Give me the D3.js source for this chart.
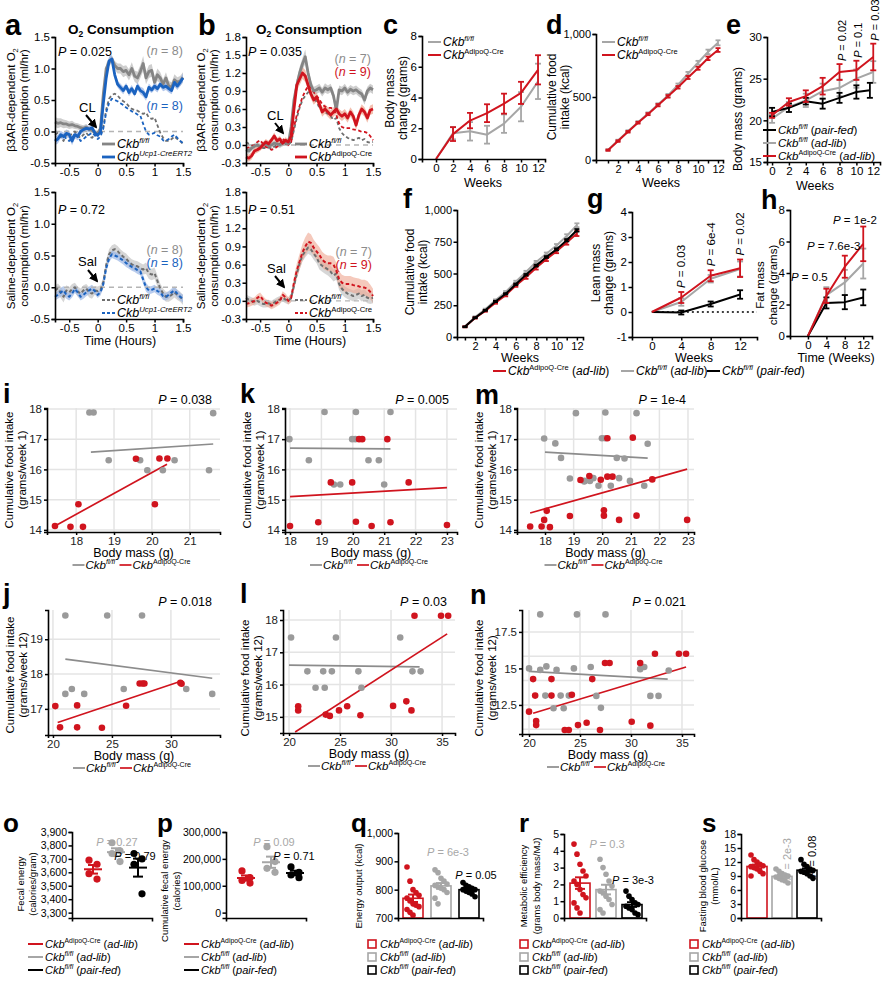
<!DOCTYPE html>
<html><head><meta charset="utf-8">
<script src="https://cdn.jsdelivr.net/npm/d3@7/dist/d3.min.js"></script>
<style>html,body{margin:0;padding:0;background:#fff}svg{display:block}</style>
</head><body>
<script>
// ================= DATA =================
const tHours = [-0.75,-0.7,-0.65,-0.6,-0.55,-0.5,-0.45,-0.4,-0.35,-0.3,
  -0.25,-0.2,-0.15,-0.1,-0.05,0,0.05,0.1,0.15,0.2,
  0.25,0.3,0.35,0.4,0.45,0.5,0.55,0.6,0.65,0.7,
  0.75,0.8,0.85,0.9,0.95,1,1.05,1.1,1.15,1.2,
  1.25,1.3,1.35,1.4,1.45,1.5];
const timeTicks = [-0.5,0,0.5,1,1.5];
// panel a
const aYTicks = [-0.5,0,0.5,1,1.5];
const aCLGray = [0.15,0.13,0.14,0.12,0.12,0.10,0.11,0.09,0.08,0.06,
  0.05,0.07,0.03,0.02,-0.02,-0.03,0.05,0.60,1.00,1.10,
  1.15,1.05,1.00,1.00,0.95,0.97,0.90,1.00,0.88,0.85,
  0.95,1.08,0.85,0.95,0.97,0.78,0.90,0.85,0.75,0.85,
  0.72,0.70,0.82,0.78,0.80,0.86];
const aCLGraySem = [0.08,0.08,0.07,0.07,0.06,0.06,0.06,0.05,0.05,0.05,
  0.05,0.05,0.04,0.04,0.04,0.04,0.05,0.08,0.08,0.07,
  0.06,0.07,0.08,0.08,0.09,0.08,0.09,0.10,0.09,0.10,
  0.10,0.12,0.10,0.10,0.10,0.09,0.10,0.09,0.08,0.09,
  0.08,0.08,0.09,0.08,0.08,0.08];
const aCLBlue = [-0.15,-0.12,-0.05,-0.08,-0.03,-0.05,-0.15,-0.05,-0.08,0.00,
  0.03,0.05,0.04,0.06,-0.02,-0.06,0.00,0.45,0.85,1.12,
  1.15,0.90,0.75,0.70,0.65,0.72,0.62,0.68,0.60,0.72,
  0.65,0.62,0.55,0.70,0.66,0.72,0.68,0.75,0.70,0.72,
  0.68,0.65,0.78,0.72,0.78,0.85];
const aCLBlueSem = [0.07,0.07,0.06,0.06,0.06,0.06,0.07,0.06,0.06,0.05,
  0.05,0.05,0.05,0.05,0.04,0.04,0.04,0.06,0.07,0.07,
  0.06,0.06,0.05,0.06,0.06,0.05,0.06,0.06,0.05,0.06,
  0.06,0.07,0.06,0.06,0.05,0.06,0.06,0.05,0.06,0.06,
  0.06,0.06,0.07,0.06,0.06,0.07];
const aSalGray = [-0.05,-0.02,-0.08,-0.15,-0.05,-0.08,-0.03,0.00,-0.07,-0.10,
  -0.05,-0.02,-0.08,-0.10,-0.05,-0.06,-0.04,0.08,0.35,0.52,
  0.58,0.60,0.57,0.52,0.48,0.45,0.40,0.36,0.34,0.33,
  0.30,0.28,0.30,0.22,0.20,0.22,0.10,-0.02,-0.10,-0.15,
  -0.15,-0.12,-0.08,-0.12,-0.15,-0.20];
const aSalGraySem = [0.08,0.08,0.09,0.09,0.08,0.08,0.08,0.07,0.08,0.08,
  0.08,0.07,0.08,0.08,0.07,0.07,0.07,0.08,0.08,0.08,
  0.08,0.08,0.08,0.08,0.08,0.08,0.08,0.08,0.08,0.08,
  0.08,0.08,0.09,0.09,0.09,0.09,0.09,0.08,0.08,0.08,
  0.08,0.08,0.08,0.08,0.08,0.08];
const aSalBlue = [-0.15,-0.12,-0.08,-0.05,-0.12,-0.15,-0.10,-0.03,-0.08,-0.15,
  -0.12,-0.08,-0.05,-0.02,-0.06,-0.12,-0.08,0.05,0.30,0.45,
  0.52,0.50,0.48,0.45,0.42,0.38,0.35,0.32,0.30,0.27,
  0.25,0.12,0.00,-0.05,-0.04,-0.02,-0.06,-0.08,-0.14,-0.15,
  -0.12,-0.08,-0.05,-0.10,-0.15,-0.18];
const aSalBlueSem = [0.06,0.06,0.07,0.07,0.06,0.06,0.06,0.06,0.06,0.06,
  0.06,0.06,0.06,0.06,0.05,0.05,0.05,0.06,0.06,0.06,
  0.06,0.06,0.06,0.06,0.06,0.06,0.06,0.06,0.06,0.06,
  0.06,0.07,0.07,0.06,0.06,0.06,0.06,0.06,0.06,0.06,
  0.06,0.06,0.06,0.06,0.06,0.06];
// panel b
const bYTicks = [-0.3,0,0.3,0.6,0.9,1.2,1.5,1.8];
const bCLGray = [-0.08,-0.10,-0.05,-0.02,0.00,-0.03,0.00,0.02,-0.02,0.00,
  0.03,0.02,0.00,0.03,0.05,0.02,0.30,0.75,1.00,1.20,
  1.35,1.47,1.20,1.00,0.90,0.92,0.95,0.88,0.95,0.92,
  0.95,0.82,0.58,0.92,0.90,0.95,0.88,0.93,0.90,0.92,
  0.88,0.85,0.75,0.90,0.95,0.92];
const bCLGraySem = [0.05,0.05,0.05,0.05,0.05,0.05,0.05,0.05,0.05,0.05,
  0.05,0.05,0.05,0.05,0.05,0.05,0.06,0.08,0.10,0.10,
  0.10,0.12,0.10,0.08,0.07,0.07,0.07,0.07,0.08,0.07,
  0.07,0.08,0.08,0.07,0.07,0.07,0.07,0.07,0.07,0.07,
  0.07,0.07,0.08,0.07,0.07,0.07];
const bCLRed = [-0.20,-0.22,-0.18,-0.10,-0.08,-0.05,0.00,0.05,0.02,0.08,
  0.15,0.07,0.10,0.03,0.08,0.05,0.15,0.60,1.00,1.10,
  1.20,1.15,1.00,0.85,0.75,0.80,0.68,0.55,0.60,0.55,
  0.50,0.55,0.60,0.52,0.48,0.52,0.45,0.55,0.48,0.33,
  0.50,0.60,0.55,0.45,0.58,0.60];
const bCLRedSem = [0.06,0.06,0.06,0.05,0.05,0.05,0.05,0.05,0.05,0.05,
  0.06,0.05,0.05,0.05,0.05,0.05,0.06,0.08,0.10,0.10,
  0.10,0.10,0.09,0.08,0.08,0.08,0.08,0.08,0.08,0.08,
  0.08,0.08,0.08,0.08,0.08,0.08,0.08,0.08,0.08,0.08,
  0.08,0.08,0.08,0.08,0.08,0.08];
const bSalGray = [0.05,0.02,0.00,-0.02,0.00,-0.03,-0.05,-0.05,-0.04,-0.06,
  -0.03,0.00,0.02,0.05,0.02,0.00,0.05,0.25,0.45,0.62,
  0.75,0.82,0.88,0.85,0.78,0.72,0.62,0.58,0.55,0.52,
  0.48,0.42,0.45,0.28,0.20,0.15,0.12,0.10,0.08,0.10,
  0.12,0.08,0.10,0.05,0.04,0.05];
const bSalGraySem = [0.06,0.06,0.06,0.06,0.06,0.06,0.06,0.06,0.06,0.06,
  0.06,0.06,0.06,0.06,0.06,0.06,0.07,0.08,0.09,0.10,
  0.10,0.10,0.10,0.10,0.10,0.10,0.10,0.10,0.10,0.10,
  0.10,0.10,0.10,0.10,0.10,0.09,0.09,0.09,0.09,0.09,
  0.09,0.09,0.09,0.09,0.09,0.09];
const bSalRed = [-0.05,-0.04,-0.02,0.00,0.05,0.08,0.02,-0.03,-0.05,-0.08,
  -0.06,-0.03,0.00,0.10,0.06,0.00,0.05,0.30,0.50,0.65,
  0.80,0.90,0.98,0.96,0.88,0.82,0.76,0.68,0.64,0.62,
  0.62,0.60,0.50,0.36,0.30,0.28,0.28,0.28,0.26,0.25,
  0.24,0.22,0.22,0.20,0.15,0.08];
const bSalRedSem = [0.06,0.06,0.06,0.06,0.06,0.06,0.06,0.06,0.06,0.06,
  0.06,0.06,0.06,0.06,0.06,0.06,0.07,0.10,0.12,0.13,
  0.14,0.15,0.15,0.14,0.13,0.13,0.13,0.13,0.13,0.13,
  0.13,0.13,0.13,0.13,0.13,0.13,0.13,0.13,0.13,0.13,
  0.13,0.13,0.13,0.13,0.12,0.12];
// panel c
const cWeeks = [0,2,4,6,8,10,12];
const cXTicks = [0,2,4,6,8,10,12];
const cYTicks = [0,2,4,6,8];
const cGray = [0,1.68,1.80,1.58,2.30,3.40,5.05];
const cGrayErr = [0,0.40,0.60,0.58,0.60,0.95,1.15];
const cRed = [0,1.62,2.50,2.98,3.60,4.30,5.80];
const cRedErr = [0,0.45,0.50,0.58,0.65,0.72,0.95];
// panel d
const dWeeks = [1,2,3,4,5,6,7,8,9,10,11,12];
const dYTicks = [0,500,1000];
const dGray = [80,155,228,300,368,440,512,595,685,772,858,930];
const dGrayErr = [5,6,8,8,10,10,12,12,14,15,18,20];
const dRed = [78,150,224,296,364,435,505,577,655,728,807,873];
const dRedErr = [5,6,6,7,8,9,10,10,12,12,14,15];
// panel e
const eWeeks = [0,2,4,6,8,10,12];
const eBlackWeeks = [0,2,4,6,8,10,11.6];
const eYTicks = [15,20,25,30];
const eRed = [20.6,22.2,22.9,24.1,25.8,26.0,27.6];
const eRedErr = [0.3,0.45,0.7,1.0,0.95,1.15,1.6];
const eGray = [20.2,21.6,22.4,23.5,23.9,25.0,25.8];
const eGrayErr = [0.5,0.6,0.8,0.9,1.0,1.1,1.3];
const eBlack = [21.0,21.5,22.3,22.0,22.7,23.4,23.6];
const eBlackErr = [0.5,0.5,0.4,0.6,0.6,0.8,0.9];
const ePWeeks = [8,10,12];
const ePLabels = ["0.02","0.1","0.03"];
// panel f
const fWeeks = [1,2,3,4,5,6,7,8,9,10,11,12];
const fYTicks = [0,250,500,750,1000];
const fGray = [82,158,218,290,355,435,512,590,655,720,795,880];
const fGrayErr = [4,5,5,6,7,8,9,9,10,12,14,15];
const fRed = [80,150,205,270,330,405,470,545,612,675,745,815];
const fRedErr = [4,5,6,8,10,10,12,14,14,15,18,20];
const fBlack = [80,152,210,280,340,415,490,562,630,690,762,840];
const fBlackErr = [3,4,4,5,5,6,6,7,7,8,9,10];
// panel g
const gWeeks = [0,4,8,12];
const gYTicks = [-1,0,1,2,3,4];
const gRed = [0,0.58,1.45,1.75];
const gRedErr = [0,0.22,0.22,0.35];
const gGray = [0,0.40,1.33,1.72];
const gGrayErr = [0,0.15,0.15,0.30];
const gBlack = [0,-0.02,0.32,0.70];
const gBlackErr = [0,0.08,0.10,0.17];
const gPLabels = ["0.03","6e-4","0.02"];
// panel h
const hWeeks = [0,4,8,12];
const hYTicks = [0,2,4,6,8];
const hRed = [0,2.55,4.40,5.85];
const hRedErr = [0,0.45,0.70,1.10];
const hGray = [0,2.60,3.40,4.60];
const hGrayErr = [0,0.50,0.80,0.95];
const hBlack = [0,2.10,2.15,2.45];
const hBlackErr = [0,0.35,0.45,0.50];
const hPLabels = ["0.5","7.6e-3","1e-2"];
// scatter i
const iGrayX = [18.35,18.46,21.62,18.86,19.69,20.6,19.88,20.29,21.51];
const iGrayY = [17.88,17.88,17.86,16.30,16.30,16.30,15.97,15.97,15.97];
const iRedX = [19.58,20.2,20.41,18.06,20.08,17.44,17.85,18.18];
const iRedY = [16.35,16.36,16.36,14.85,14.85,14.13,14.10,14.10];
const iFitGrayX = [18.39,21.62], iFitGrayY = [16.57,16.84];
const iFitRedX = [17.44,20.4], iFitRedY = [14.13,16.17];
// scatter k
const kGrayX = [17.98,19.1,20.1,21.2,19.98,20.08,18.6,20.5,20.83,19.4,19.6,21.0];
const kGrayY = [17.0,17.9,17.9,17.9,17.0,17.0,16.3,16.3,16.3,15.5,15.5,15.5];
const kRedX = [20.2,20.3,21.1,19.3,19.98,21.78,18.0,18.9,20.1,20.6,21.2,23.0];
const kRedY = [17.0,17.0,17.0,15.57,15.57,15.57,14.13,14.25,14.27,14.13,14.25,14.16];
const kFitGrayX = [18.0,21.2], kFitGrayY = [16.7,16.68];
const kFitRedX = [18.0,23.0], kFitRedY = [15.1,15.4];
// scatter m
const mGrayX = [17.97,18.36,18.56,19.08,18.87,19.37,20.11,21.2,19.99,20.11,21.59,20.51,20.78,19.38,19.57,19.69,19.87,20.3,20.59,20.97,21.47];
const mGrayY = [17.02,16.86,16.38,17.86,15.7,15.6,17.88,17.86,17.03,17.03,16.85,16.38,16.36,15.62,15.62,15.71,15.46,15.46,15.71,15.62,15.46];
const mRedX = [17.48,17.88,17.97,18.06,18.17,18.87,19.24,19.55,19.95,20.18,20.36,21.75,20.18,21.07,20.06,20.06,20.59,21.2,22.97];
const mRedY = [14.11,14.11,14.33,14.63,14.09,14.46,15.65,15.78,15.66,15.76,15.76,15.67,17.03,17.05,14.65,14.47,14.33,14.47,14.33];
const mFitGrayX = [18.0,21.59], mFitGrayY = [16.57,16.37];
const mFitRedX = [17.48,22.97], mFitRedY = [14.56,16.01];
// scatter j
const jGrayX = [21.05,24.6,27.55,21.05,21.6,22.65,26.0,31.3,33.5];
const jGrayY = [19.68,19.68,19.68,17.43,17.57,17.43,17.57,17.57,17.43];
const jRedX = [20.2,20.6,22.05,22.05,24.15,26.2,27.35,27.6,27.75,30.8,30.9];
const jRedY = [17.08,16.47,17.1,16.47,16.46,17.09,17.73,17.73,17.73,17.75,17.72];
const jFitGrayX = [21.05,33.5], jFitGrayY = [18.43,17.88];
const jFitRedX = [20.4,30.9], jFitRedY = [16.61,17.8];
// scatter l
const lGrayX = [20.2,24.6,30.9,21.8,23.35,24.2,26.8,32.1,32.9,22.6,23.5,27.1];
const lGrayY = [17.46,17.46,17.46,16.41,16.41,16.41,16.41,16.41,16.41,15.9,15.9,15.9];
const lRedX = [32.3,34.9,35.6,20.9,20.9,23.6,24.0,24.9,25.7,27.0,30.2,31.5,32.0];
const lRedY = [18.13,18.13,18.13,15.33,15.2,15.07,15.03,15.2,15.33,15.05,15.34,15.48,15.2];
const lFitGrayX = [20.0,32.8], lFitGrayY = [16.6,16.55];
const lFitRedX = [20.6,35.5], lFitRedY = [14.53,17.57];
// scatter n
const nGrayX = [21.1,24.7,27.5,20.0,21.1,21.7,22.7,24.4,26.05,30.9,31.3,33.7,31.9,32.7,26.6,27.05,21.6,23.1,23.9,22.4,23.4];
const nGrayY = [18.7,18.7,18.7,15.0,14.9,15.14,14.9,15.0,15.1,14.95,15.1,14.86,13.12,13.12,13.12,12.3,13.14,13.14,13.14,12.27,12.27];
const nRedX = [20.0,20.4,22.2,20.6,22.2,24.2,20.7,20.7,23.5,23.9,24.8,25.65,26.2,27.45,27.9,32.35,34.7,35.4,30.9,26.96,30.07,31.9];
const nRedY = [12.04,14.27,14.27,13.14,13.14,13.19,11.4,11.12,10.78,10.78,11.12,11.28,14.27,15.37,15.37,16.0,16.0,16.0,15.37,10.78,11.35,11.08];
const nFitGrayX = [20.0,33.6], nFitGrayY = [14.8,14.27];
const nFitRedX = [20.4,35.4], nFitRedY = [11.93,15.1];
const nGridY = [10.83,12.5,14.17,15.83,17.5];
const nYTicks = [12.5,15,17.5];
// bottom row
const oRed = [3690,3660,3590,3550], oGray = [3820,3760,3740,3680], oBlack = [3740,3700,3660,3440];
const oYTicks = [3300,3400,3500,3600,3700,3800,3900];
const pRed = [155000,130000,120000,110000], pGray = [245000,190000,165000,150000], pBlack = [170000,150000,140000,130000];
const pYTicks = [0,100000,200000,300000];
const qRed = [880,830,800,790,780,770,760,750,745,740,730,720,710];
const qGray = [870,860,840,830,820,815,810,805,800,790,770,750];
const qBlack = [825,815,810,805,800,800,795,790,785,775];
const qYTicks = [700,800,900,1000];
const rRed = [4.4,3.8,3.2,2.8,2.5,2.2,2.0,1.7,1.4,1.2,0.9,0.6,0.3];
const rGray = [3.5,3.0,2.6,2.2,1.9,1.6,1.5,1.3,1.1,0.8,0.5,0.3];
const rBlack = [1.6,1.3,1.1,0.9,0.8,0.7,0.6,0.5,0.3,0.2];
const rYTicks = [0,1,2,3,4,5];
const sRed = [13.5,12.5,12,11.5,11.2,11,10.8,10.5,10,9.5,9];
const sGray = [10.5,10,9.5,9.2,9,8.8,8.5,8.2,8,7.5];
const sBlack = [12.5,11.5,11,10.5,10.2,10,9.8,9.5,9,8.5];
const sYTicks = [0,3,6,9,12,15,18];

// ================= HELPERS =================
const F = "'Liberation Sans', Arial, Helvetica, sans-serif";
const RED = "#d0141e", BLUE = "#1b63c0", GRAY = "#a6a6a6", DGRAY = "#858585", SGRAY = "#9a9a9a";
const svg = d3.select("body").append("svg").attr("width", 888).attr("height", 989).style("font-family", F);
svg.append("rect").attr("width", 888).attr("height", 989).attr("fill", "#fff");
const defs = svg.append("defs");
defs.append("marker").attr("id", "arr").attr("viewBox", "0 0 10 10").attr("refX", 8).attr("refY", 5)
  .attr("markerWidth", 4.5).attr("markerHeight", 4.5).attr("orient", "auto")
  .append("path").attr("d", "M0,0 L10,5 L0,10 z").attr("fill", "#000");

function T(x, y, s, o = {}) {
  const t = svg.append("text").attr("x", x).attr("y", y)
    .attr("font-size", o.size || 12).attr("fill", o.fill || "#000")
    .attr("text-anchor", o.anchor || "start");
  if (o.bold) t.attr("font-weight", "bold");
  if (o.italic) t.attr("font-style", "italic");
  if (o.rotate) t.attr("transform", `rotate(${o.rotate},${x},${y})`);
  if (s != null) t.text(s);
  return t;
}
function L(x1, y1, x2, y2, c, w, dash) {
  const l = svg.append("line").attr("x1", x1).attr("y1", y1).attr("x2", x2).attr("y2", y2)
    .attr("stroke", c).attr("stroke-width", w);
  if (dash) l.attr("stroke-dasharray", dash);
  return l;
}
function letter(x, y, s, size = 27) { T(x, y, s, { size: size, bold: true }); }
function pText(x, y, val, o = {}) {
  const t = T(x, y, null, o);
  t.append("tspan").attr("font-style", "italic").text("P");
  t.append("tspan").text(" = " + val);
  return t;
}
function nText(x, y, n, fill) {
  const t = T(x, y, null, { anchor: "end", fill: fill, size: 12.5 });
  t.append("tspan").text("(");
  t.append("tspan").attr("font-style", "italic").text("n");
  t.append("tspan").text(" = " + n + ")");
}
function geno(x, y, sup, suffix, o = {}) {
  const size = o.size || 12;
  const t = T(x, y, null, o);
  t.append("tspan").attr("font-style", "italic").text("Ckb");
  t.append("tspan").attr("font-size", size * 0.62).attr("dy", -size * 0.42)
    .attr("font-style", o.supUp ? "normal" : "italic").text(sup);
  if (suffix) {
    t.append("tspan").attr("dy", size * 0.42).text(" (");
    t.append("tspan").attr("font-style", "italic").text(suffix);
    t.append("tspan").text(")");
  }
  return t;
}
function yLab(cx, cy, s, size = 11.5) {
  return T(cx + size * 0.36, cy, s, { anchor: "middle", rotate: -90, size: size });
}
function axes(x, y, o) {
  const size = o.size || 11.5, fill = o.fill || "#000";
  const tick = o.tick ?? 3.5, pad = o.pad ?? 1.5;
  const st = g => {
    g.attr("font-family", F);
    g.select(".domain").attr("stroke", "#000").attr("stroke-width", 1.6);
    g.selectAll(".tick line").attr("stroke", "#000").attr("stroke-width", 1.5);
    g.selectAll(".tick text").attr("font-size", size).attr("fill", fill).attr("font-family", F);
  };
  const gx = svg.append("g").attr("transform", `translate(0,${o.xAt ?? y.range()[0]})`)
    .call(d3.axisBottom(x).tickValues(o.xTicks).tickFormat(o.xFmt || (d => d))
      .tickSizeOuter(0).tickSize(tick).tickPadding(pad));
  st(gx);
  const gy = svg.append("g").attr("transform", `translate(${o.yAt ?? x.range()[0]},0)`)
    .call(d3.axisLeft(y).tickValues(o.yTicks).tickFormat(o.yFmt || (d => d))
      .tickSizeOuter(0).tickSize(tick).tickPadding(pad));
  st(gy);
}
function band(x, y, ts, m, s, fill, op) {
  const area = d3.area().x((d, i) => x(ts[i])).y0((d, i) => y(m[i] - s[i])).y1((d, i) => y(m[i] + s[i]));
  svg.append("path").datum(m).attr("d", area).attr("fill", fill).attr("opacity", op);
}
function series(x, y, ts, m, c, w, dash) {
  const line = d3.line().x((d, i) => x(ts[i])).y(d => y(d));
  const p = svg.append("path").datum(m).attr("d", line).attr("fill", "none").attr("stroke", c)
    .attr("stroke-width", w).attr("stroke-linejoin", "round");
  if (dash) p.attr("stroke-dasharray", dash);
}
function errSeries(x, y, xs, m, e, c, w = 2, cap = 3) {
  const line = d3.line().x((d, i) => x(xs[i])).y(d => y(d));
  svg.append("path").datum(m).attr("d", line).attr("fill", "none").attr("stroke", c).attr("stroke-width", w).attr("stroke-linejoin", "round");
  m.forEach((v, i) => {
    if (!e[i]) return;
    const cx = x(xs[i]);
    L(cx, y(v - e[i]), cx, y(v + e[i]), c, 1.8);
    L(cx - cap, y(v - e[i]), cx + cap, y(v - e[i]), c, 1.8);
    L(cx - cap, y(v + e[i]), cx + cap, y(v + e[i]), c, 1.8);
  });
}
function o2Title(cx, y) {
  const t = T(cx, y, null, { anchor: "middle", bold: true, size: 13.5 });
  t.append("tspan").text("O");
  t.append("tspan").attr("font-size", 8.5).attr("dy", 3).text("2");
  t.append("tspan").attr("dy", -3).text(" Consumption");
}
function o2YLab(c1, c2, cy, first) {
  const t = T(c1 + 4.1, cy, null, { anchor: "middle", rotate: -90, size: 11.5 });
  t.append("tspan").text(first + " O");
  t.append("tspan").attr("font-size", 7.5).attr("dy", 3).text("2");
  yLab(c2, cy, "consumption (ml/hr)");
}
function zero(x, y) { L(x(-0.75), y(0), x(1.5), y(0), "#b5b5b5", 1.3, "5,4"); }
function arrow(x1, y1, x2, y2) { L(x1, y1, x2, y2, "#000", 2).attr("marker-end", "url(#arr)"); }
const fmt1 = d => d.toFixed(1);
const fmtC = d3.format(",");

// ================= PANEL a =================
letter(5, 35, "a", 29);
o2Title(121, 34);
{
  const x = d3.scaleLinear().domain([-0.75, 1.5]).range([55, 183]);
  const y = d3.scaleLinear().domain([-0.5, 1.5]).range([163, 37]);
  band(x, y, tHours, aCLGray, aCLGraySem, "#c9c9c9", 0.9);
  band(x, y, tHours, aCLBlue, aCLBlueSem, "#9bb6e6", 0.75);
  zero(x, y);
  series(x, y, tHours, aSalGray, "#6f6f6f", 1.8, "3.5,2.5");
  series(x, y, tHours, aSalBlue, BLUE, 1.8, "3.5,2.5");
  series(x, y, tHours, aCLGray, DGRAY, 2.8);
  series(x, y, tHours, aCLBlue, BLUE, 2.8);
  axes(x, y, { xTicks: timeTicks, yTicks: aYTicks, yFmt: fmt1, size: 11.5 });
  pText(58, 56, "0.025", { size: 12.5 });
  nText(183, 55, 8, "#8c8c8c");
  nText(183, 110, 8, BLUE);
  T(79, 112, "CL", { size: 13 });
  arrow(86, 115, 96, 127);
  L(102, 144, 115, 144, DGRAY, 2.8); geno(117, 148, "fl/fl", null, { size: 12.5 });
  L(102, 157, 115, 157, BLUE, 2.8); geno(117, 161, "Ucp1-CreERT2", null, { size: 12.5 });
  o2YLab(11, 24, 100, "\u03B23AR-dependent");
}
{
  const x = d3.scaleLinear().domain([-0.75, 1.5]).range([55, 183]);
  const y = d3.scaleLinear().domain([-0.5, 1.5]).range([319, 192]);
  band(x, y, tHours, aSalGray, aSalGraySem, "#cfcfcf", 0.85);
  band(x, y, tHours, aSalBlue, aSalBlueSem, "#9bb6e6", 0.7);
  zero(x, y);
  series(x, y, tHours, aSalGray, "#6f6f6f", 2, "3.5,2.5");
  series(x, y, tHours, aSalBlue, BLUE, 2, "3.5,2.5");
  axes(x, y, { xTicks: timeTicks, yTicks: aYTicks, yFmt: fmt1, size: 11.5 });
  pText(58, 214, "0.72", { size: 12.5 });
  nText(183, 254, 8, "#8c8c8c");
  nText(183, 267, 8, BLUE);
  T(78, 266, "Sal", { size: 13 });
  arrow(88, 270, 97, 281);
  L(102, 300, 115, 300, "#6f6f6f", 2, "3,2"); geno(117, 304, "fl/fl", null, { size: 12.5 });
  L(102, 313, 115, 313, BLUE, 2, "3,2"); geno(117, 317, "Ucp1-CreERT2", null, { size: 12.5 });
  T(120, 345, "Time (Hours)", { anchor: "middle", size: 12.5 });
  o2YLab(11, 24, 256, "Saline-dependent");
}

// ================= PANEL b =================
letter(198, 35, "b", 29);
o2Title(309, 34);
{
  const x = d3.scaleLinear().domain([-0.75, 1.5]).range([246, 373]);
  const y = d3.scaleLinear().domain([-0.3, 1.8]).range([163, 37]);
  band(x, y, tHours, bCLGray, bCLGraySem, "#c9c9c9", 0.9);
  band(x, y, tHours, bCLRed, bCLRedSem, "#eea58f", 0.7);
  zero(x, y);
  series(x, y, tHours, bSalGray, "#6f6f6f", 1.8, "3.5,2.5");
  series(x, y, tHours, bSalRed, RED, 1.8, "3.5,2.5");
  series(x, y, tHours, bCLGray, DGRAY, 2.8);
  series(x, y, tHours, bCLRed, RED, 2.8);
  axes(x, y, { xTicks: timeTicks, yTicks: bYTicks, yFmt: fmt1, size: 11.5 });
  pText(248, 56, "0.035", { size: 12.5 });
  nText(371, 63, 7, "#8c8c8c");
  nText(371, 76, 9, RED);
  T(267, 120, "CL", { size: 13 });
  arrow(275, 123, 283, 133);
  L(295, 144, 307, 144, DGRAY, 2.8); geno(309, 148, "fl/fl", null, { size: 12.5 });
  L(295, 157, 307, 157, RED, 2.8); geno(309, 161, "AdipoQ-Cre", null, { size: 12.5, supUp: true });
  o2YLab(201, 214, 100, "\u03B23AR-dependent");
}
{
  const x = d3.scaleLinear().domain([-0.75, 1.5]).range([246, 373]);
  const y = d3.scaleLinear().domain([-0.3, 1.8]).range([319, 192]);
  band(x, y, tHours, bSalGray, bSalGraySem, "#cfcfcf", 0.85);
  band(x, y, tHours, bSalRed, bSalRedSem, "#eea58f", 0.6);
  zero(x, y);
  series(x, y, tHours, bSalGray, "#6f6f6f", 2, "3.5,2.5");
  series(x, y, tHours, bSalRed, RED, 2, "3.5,2.5");
  axes(x, y, { xTicks: timeTicks, yTicks: bYTicks, yFmt: fmt1, size: 11.5 });
  pText(248, 214, "0.51", { size: 12.5 });
  nText(372, 256, 7, "#8c8c8c");
  nText(372, 269, 9, RED);
  T(267, 273, "Sal", { size: 13 });
  arrow(275, 276, 284, 287);
  L(295, 300, 307, 300, "#6f6f6f", 2, "3,2"); geno(309, 304, "fl/fl", null, { size: 12.5 });
  L(295, 313, 307, 313, RED, 2, "3,2"); geno(309, 317, "AdipoQ-Cre", null, { size: 12.5, supUp: true });
  T(310, 345, "Time (Hours)", { anchor: "middle", size: 12.5 });
  o2YLab(201, 214, 256, "Saline-dependent");
}

// ================= PANEL c =================
letter(383, 34, "c");
{
  const x = d3.scaleLinear().domain([-1.65, 12.82]).range([422, 545]);
  const y = d3.scaleLinear().domain([0, 8]).range([159, 36]);
  errSeries(x, y, cWeeks, cGray, cGrayErr, GRAY, 2);
  errSeries(x, y, cWeeks, cRed, cRedErr, RED, 2);
  axes(x, y, { xTicks: cXTicks, yTicks: cYTicks });
  L(428, 42, 441, 42, GRAY, 2); geno(443, 46, "fl/fl", null, { size: 12 });
  L(428, 55, 441, 55, RED, 2); geno(443, 59, "AdipoQ-Cre", null, { size: 12, supUp: true });
  T(483, 187, "Weeks", { anchor: "middle", size: 12.5 });
  yLab(390, 98, "Body mass", 12); yLab(403, 98, "change (grams)", 12);
}
// ================= PANEL d =================
letter(546, 34, "d");
{
  const x = d3.scaleLinear().domain([-0.2, 12.5]).range([596, 723]);
  const y = d3.scaleLinear().domain([0, 1000]).range([160, 34]);
  errSeries(x, y, dWeeks, dGray, dGrayErr, GRAY, 2, 2.5);
  errSeries(x, y, dWeeks, dRed, dRedErr, RED, 2, 2.5);
  axes(x, y, { xTicks: dWeeks, xFmt: d => (d % 2 === 0 ? d : ""), yTicks: dYTicks, yFmt: fmtC, size: 11 });
  L(602, 42, 615, 42, GRAY, 2); geno(617, 46, "fl/fl", null, { size: 12 });
  L(602, 55, 615, 55, RED, 2); geno(617, 59, "AdipoQ-Cre", null, { size: 12, supUp: true });
  T(661, 187, "Weeks", { anchor: "middle", size: 12.5 });
  yLab(552, 97, "Cumulative food", 12); yLab(565, 97, "intake (kcal)", 12);
}
// ================= PANEL e =================
letter(726, 34, "e");
{
  const x = d3.scaleLinear().domain([-0.6, 12.8]).range([767, 880]);
  const y = d3.scaleLinear().domain([15, 30]).range([162, 37]);
  errSeries(x, y, eWeeks, eGray, eGrayErr, GRAY, 2);
  errSeries(x, y, eBlackWeeks, eBlack, eBlackErr, "#000", 2);
  errSeries(x, y, eWeeks, eRed, eRedErr, RED, 2);
  axes(x, y, { xTicks: cXTicks, yTicks: eYTicks });
  ePWeeks.forEach((w, i) => {
    const idx = eWeeks.indexOf(w);
    pText(x(w) + 6, y(eRed[idx] + eRedErr[idx]) - 3, ePLabels[i], { size: 11, rotate: -90 });
  });
  L(763, 130, 776, 130, "#000", 2); geno(778, 134, "fl/fl", "pair-fed", { size: 11.5 });
  L(763, 143, 776, 143, GRAY, 2); geno(778, 147, "fl/fl", "ad-lib", { size: 11.5 });
  L(763, 156, 776, 156, RED, 2); geno(778, 160, "AdipoQ-Cre", "ad-lib", { size: 11.5, supUp: true });
  T(815, 190, "Weeks", { anchor: "middle", size: 12.5 });
  yLab(738, 119, "Body mass (grams)", 12);
}
// ================= PANEL f =================
letter(403, 208, "f");
{
  const x = d3.scaleLinear().domain([0.22, 12.6]).range([457, 583]);
  const y = d3.scaleLinear().domain([0, 1000]).range([337, 210]);
  errSeries(x, y, fWeeks, fGray, fGrayErr, GRAY, 2, 2.5);
  errSeries(x, y, fWeeks, fRed, fRedErr, RED, 2, 2.5);
  errSeries(x, y, fWeeks, fBlack, fBlackErr, "#000", 2, 2.5);
  axes(x, y, { xTicks: fWeeks, xFmt: d => (d % 2 === 0 ? d : ""), yTicks: fYTicks, yFmt: fmtC, size: 11 });
  T(520, 362, "Weeks", { anchor: "middle", size: 12.5 });
  yLab(410, 272, "Cumulative food", 12); yLab(423, 272, "intake (kcal)", 12);
}
// ================= PANEL g =================
letter(587, 208, "g");
{
  const x = d3.scaleLinear().domain([-2.7, 14.3]).range([632, 757]);
  const y = d3.scaleLinear().domain([-1, 4]).range([337, 212]);
  L(x(0), y(0), 757, y(0), "#000", 1.6, "2,3");
  errSeries(x, y, gWeeks, gGray, gGrayErr, GRAY, 2);
  errSeries(x, y, gWeeks, gBlack, gBlackErr, "#000", 2);
  errSeries(x, y, gWeeks, gRed, gRedErr, RED, 2);
  axes(x, y, { xTicks: gWeeks, yTicks: gYTicks });
  gWeeks.slice(1).forEach((w, i) => {
    const idx = i + 1;
    pText(x(w) + 4, y(gRed[idx] + gRedErr[idx]) - 4, gPLabels[i], { size: 11.5, rotate: -90 });
  });
  T(694, 362, "Weeks", { anchor: "middle", size: 12.5 });
  yLab(596, 273, "Lean mass", 12); yLab(609, 273, "change (grams)", 12);
}
// ================= PANEL h =================
letter(761, 209, "h");
{
  const x = d3.scaleLinear().domain([-3.9, 13.9]).range([790, 872]);
  const y = d3.scaleLinear().domain([0, 8]).range([336, 210]);
  errSeries(x, y, hWeeks, hGray, hGrayErr, GRAY, 2);
  errSeries(x, y, hWeeks, hBlack, hBlackErr, "#000", 2);
  errSeries(x, y, hWeeks, hRed, hRedErr, RED, 2);
  axes(x, y, { xTicks: hWeeks, yTicks: hYTicks });
  pText(791, 281, hPLabels[0], { size: 11.5 });
  pText(807, 250, hPLabels[1], { size: 11.5 });
  pText(833, 224, hPLabels[2], { size: 11.5 });
  T(836, 362, "Time (Weeks)", { anchor: "middle", size: 12.5 });
  yLab(760, 285, "Fat mass", 11.5); yLab(773, 285, "change (grams)", 11.5);
}
// legend f/g/h
L(493, 371, 506, 371, RED, 2); geno(508, 375, "AdipoQ-Cre", "ad-lib", { size: 12, supUp: true });
L(621, 371, 634, 371, GRAY, 2); geno(636, 375, "fl/fl", "ad-lib", { size: 12 });
L(707, 371, 720, 371, "#000", 2); geno(722, 375, "fl/fl", "pair-fed", { size: 12 });

// ================= SCATTER PANELS =================
function scatter(o) {
  const x = d3.scaleLinear().domain(o.xDom).range([o.l, o.r]);
  const y = d3.scaleLinear().domain(o.yDom).range([o.b, o.t]);
  (o.gridY || o.yTicks).forEach(v => L(o.l, y(v), o.r, y(v), "#e4e4e4", 1.5));
  o.xTicks.forEach(v => L(x(v), o.t, x(v), o.b, "#e4e4e4", 1.5));
  L(x(o.fgX[0]), y(o.fgY[0]), x(o.fgX[1]), y(o.fgY[1]), "#8c8c8c", 1.7);
  L(x(o.frX[0]), y(o.frY[0]), x(o.frX[1]), y(o.frY[1]), RED, 1.7);
  svg.append("g").selectAll("circle").data(o.gX).join("circle")
    .attr("cx", d => x(d)).attr("cy", (d, i) => y(o.gY[i])).attr("r", 3.3).attr("fill", SGRAY);
  svg.append("g").selectAll("circle").data(o.rX).join("circle")
    .attr("cx", d => x(d)).attr("cy", (d, i) => y(o.rY[i])).attr("r", 3.3).attr("fill", RED);
  axes(x, y, { xTicks: o.xTicks, yTicks: o.yTicks, size: 11.5, tick: 3, pad: 2, fill: "#222" });
  const cx = (o.l + o.r) / 2;
  T(cx, o.b + 25, "Body mass (g)", { anchor: "middle", size: 12.5 });
  pText(o.r - 8, o.t - 4, o.p, { anchor: "end", size: 12.5 });
  const ly = o.b + 33;
  L(cx - 61, ly, cx - 49, ly, "#8c8c8c", 1.7); geno(cx - 48, ly + 4, "fl/fl", null, { size: 11.5 });
  L(cx - 14, ly, cx - 2, ly, RED, 1.7); geno(cx - 1, ly + 4, "AdipoQ-Cre", null, { size: 11.5, supUp: true });
  yLab(o.yl1, o.ym, "Cumulative food intake", 11.5);
  yLab(o.yl2, o.ym, o.ylab2, 11.5);
}
letter(3, 403, "i");
scatter({ l: 47, r: 220, t: 408, b: 532, xDom: [17.23, 21.8], yDom: [13.93, 18.03], xTicks: [18, 19, 20, 21], yTicks: [14, 15, 16, 17, 18],
  gX: iGrayX, gY: iGrayY, rX: iRedX, rY: iRedY, fgX: iFitGrayX, fgY: iFitGrayY, frX: iFitRedX, frY: iFitRedY,
  p: "0.038", yl1: 9, yl2: 22, ym: 470, ylab2: "(grams/week 1)" });
letter(240, 403, "k");
scatter({ l: 285, r: 457, t: 408, b: 532, xDom: [17.84, 23.32], yDom: [13.93, 18.03], xTicks: [18, 19, 20, 21, 22, 23], yTicks: [14, 15, 16, 17, 18],
  gX: kGrayX, gY: kGrayY, rX: kRedX, rY: kRedY, fgX: kFitGrayX, fgY: kFitGrayY, frX: kFitRedX, frY: kFitRedY,
  p: "0.005", yl1: 247, yl2: 260, ym: 470, ylab2: "(grams/week 1)" });
letter(475, 404, "m");
scatter({ l: 517, r: 694, t: 408, b: 532, xDom: [17.02, 23.21], yDom: [13.93, 18.03], xTicks: [18, 19, 20, 21, 22, 23], yTicks: [14, 15, 16, 17, 18],
  gX: mGrayX, gY: mGrayY, rX: mRedX, rY: mRedY, fgX: mFitGrayX, fgY: mFitGrayY, frX: mFitRedX, frY: mFitRedY,
  p: "1e-4", yl1: 479, yl2: 492, ym: 470, ylab2: "(grams/week 1)" });
letter(3, 603, "j");
scatter({ l: 48, r: 220, t: 610, b: 735, xDom: [19.58, 34.16], yDom: [16.25, 19.84], xTicks: [20, 25, 30], yTicks: [17, 18, 19],
  gX: jGrayX, gY: jGrayY, rX: jRedX, rY: jRedY, fgX: jFitGrayX, fgY: jFitGrayY, frX: jFitRedX, frY: jFitRedY,
  p: "0.018", yl1: 10, yl2: 23, ym: 675, ylab2: "(grams/week 12)" });
letter(240, 603, "l");
scatter({ l: 283, r: 455, t: 610, b: 733, xDom: [19.41, 36.27], yDom: [14.5, 18.31], xTicks: [20, 25, 30, 35], yTicks: [15, 16, 17, 18],
  gX: lGrayX, gY: lGrayY, rX: lRedX, rY: lRedY, fgX: lFitGrayX, fgY: lFitGrayY, frX: lFitRedX, frY: lFitRedY,
  p: "0.03", yl1: 245, yl2: 258, ym: 678, ylab2: "(grams/week 12)" });
letter(470, 604, "n");
scatter({ l: 522, r: 694, t: 610, b: 734, xDom: [19.31, 36.18], yDom: [10.51, 19.0], xTicks: [20, 25, 30, 35], yTicks: nYTicks, gridY: nGridY,
  gX: nGrayX, gY: nGrayY, rX: nRedX, rY: nRedY, fgX: nFitGrayX, fgY: nFitGrayY, frX: nFitRedX, frY: nFitRedY,
  p: "0.021", yl1: 479, yl2: 492, ym: 678, ylab2: "(grams/week 12)" });

// ================= BOTTOM ROW =================
const GCOL = [RED, GRAY, "#000"];
function groupPanel(o) {
  const x = d3.scaleLinear().domain([0, 1]).range([o.l, o.r]);
  const y = d3.scaleLinear().domain(o.yDom).range([918, o.t]);
  o.groups.forEach((vals, gi) => {
    const cx = o.xs[gi], col = GCOL[gi];
    const m = d3.mean(vals), se = d3.deviation(vals) / Math.sqrt(vals.length);
    if (o.bars) {
      svg.append("rect").attr("x", cx - 10).attr("y", y(m)).attr("width", 20).attr("height", 918 - y(m))
        .attr("fill", "#fff").attr("stroke", col).attr("stroke-width", 1.6);
    }
    svg.append("g").selectAll("circle").data(vals).join("circle")
      .attr("cx", (d, i) => cx + (o.bars ? ((i % 5) - 2) * 3 : (i % 2 ? 4 : -4)))
      .attr("cy", d => y(d)).attr("r", o.bars ? 2.8 : 3.6).attr("fill", col);
    if (!o.bars) L(cx - 9, y(m), cx + 9, y(m), col, 2);
    L(cx, y(m - se), cx, y(m + se), col, 2);
    L(cx - 5, y(m - se), cx + 5, y(m - se), col, 2);
    L(cx - 5, y(m + se), cx + 5, y(m + se), col, 2);
  });
  axes(x, y, { xTicks: [], yTicks: o.yTicks, yFmt: o.yFmt || (d => d), size: 10.5, xAt: 918 });
  o.pt.forEach(p => pText(p[0], p[1], p[2], { anchor: p[4] ? "start" : "middle", fill: p[3], size: 11, rotate: p[4] || 0 }));
  o.legend(o.lx);
}
function lineLegend(lx) {
  L(lx, 944, lx + 15, 944, RED, 2); geno(lx + 17, 948, "AdipoQ-Cre", "ad-lib", { size: 11, supUp: true });
  L(lx, 957, lx + 15, 957, GRAY, 2); geno(lx + 17, 961, "fl/fl", "ad-lib", { size: 11 });
  L(lx, 970, lx + 15, 970, "#000", 2); geno(lx + 17, 974, "fl/fl", "pair-fed", { size: 11 });
}
function boxLegend(lx) {
  [[RED, "AdipoQ-Cre", "ad-lib", true], [GRAY, "fl/fl", "ad-lib"], ["#000", "fl/fl", "pair-fed"]].forEach((d, i) => {
    svg.append("rect").attr("x", lx).attr("y", 940 + i * 13).attr("width", 8).attr("height", 8)
      .attr("fill", "#fff").attr("stroke", d[0]).attr("stroke-width", 1.6);
    geno(lx + 12, 948 + i * 13, d[1], d[2], { size: 11, supUp: d[3] });
  });
}
letter(3, 832, "o", 26);
groupPanel({ l: 72, r: 152, t: 832, yDom: [3260, 3900], yTicks: oYTicks, yFmt: fmtC, xs: [93, 116, 138],
  groups: [oRed, oGray, oBlack], pt: [[117, 846, "0.27", "#a8a8a8"], [135, 860, "0.79", "#000"]], legend: lineLegend, lx: 28 });
yLab(21, 884, "Fecal energy", 9.5); yLab(33, 884, "(calories/gram)", 9.5);
letter(157, 832, "p", 26);
groupPanel({ l: 226, r: 306, t: 832, yDom: [-20000, 300000], yTicks: pYTicks, yFmt: fmtC, xs: [246, 271, 295],
  groups: [pRed, pGray, pBlack], pt: [[274, 846, "0.09", "#a8a8a8"], [294, 860, "0.71", "#000"]], legend: lineLegend, lx: 184 });
yLab(165, 891, "Cumulative fecal energy", 9.5); yLab(177, 891, "(calories)", 9.5);
letter(351, 832, "q", 26);
groupPanel({ l: 398, r: 483, t: 833, yDom: [700, 1000], yTicks: qYTicks, yFmt: fmtC, xs: [413, 441, 469], bars: true,
  groups: [qRed, qGray, qBlack], pt: [[448, 856, "6e-3", "#a8a8a8"], [476, 879, "0.05", "#000"]], legend: boxLegend, lx: 368 });
yLab(359, 886, "Energy output (kcal)", 9.5);
letter(519, 832, "r", 26);
groupPanel({ l: 564, r: 646, t: 834, yDom: [0, 5], yTicks: rYTicks, xs: [580, 606, 632], bars: true,
  groups: [rRed, rGray, rBlack], pt: [[607, 848, "0.3", "#a8a8a8"], [633, 884, "3e-3", "#000"]], legend: boxLegend, lx: 520 });
yLab(524, 886, "Metabolic efficiency", 9.5); yLab(537, 886, "(grams body mass/MJ)", 9.5);
letter(702, 832, "s", 26);
groupPanel({ l: 741, r: 821, t: 834, yDom: [0, 18], yTicks: sYTicks, xs: [757, 782, 807], bars: true,
  groups: [sRed, sGray, sBlack], pt: [[791, 880, "2e-3", "#a8a8a8", -90], [816, 877, "0.08", "#000", -90]], legend: boxLegend, lx: 690 });
yLab(703, 886, "Fasting blood glucose", 9.5); yLab(715, 886, "(mmol/L)", 9.5);
</script>
</body></html>
